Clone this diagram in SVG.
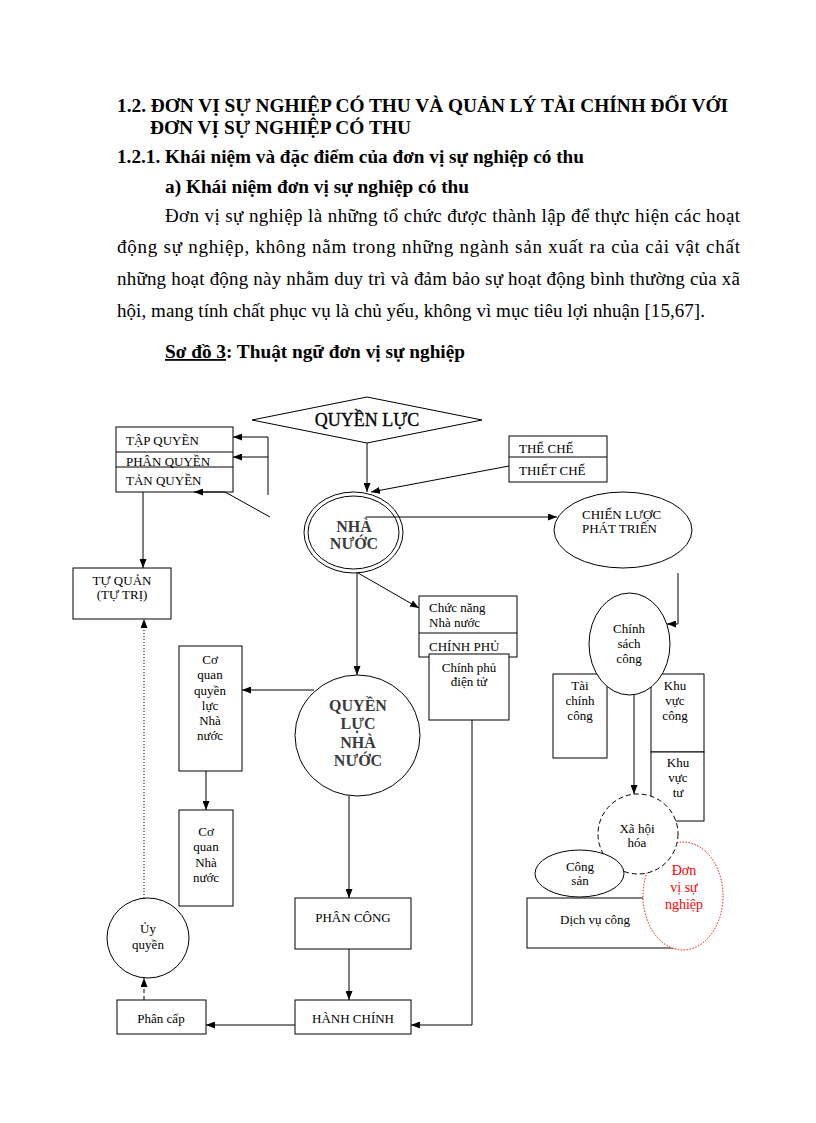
<svg xmlns="http://www.w3.org/2000/svg" width="816" height="1123" viewBox="0 0 816 1123">
<style>
.t{font-family:"Liberation Serif","Times New Roman",serif;fill:#000}
.h{font-size:18px;font-weight:bold}
.p{font-size:19px}
.l{font-size:13px}
.c{text-anchor:middle}
.bb{font-size:16px;font-weight:bold;fill:#3a3a3a;text-anchor:middle}
.box{fill:#fff;stroke:#000;stroke-width:1}
.ln{fill:none;stroke:#000;stroke-width:1}
.arr{fill:none;stroke:#000;stroke-width:1;marker-end:url(#ah)}
</style>
<defs>
<marker id="ah" viewBox="0 0 9 7" refX="9" refY="3.5" markerWidth="9" markerHeight="7" markerUnits="userSpaceOnUse" orient="auto">
<path d="M0,0 L9,3.5 L0,7 z" fill="#000"/>
</marker>
</defs>
<rect width="816" height="1123" fill="#fff"/>

<g id="header">
<text class="t h" x="117" y="112" textLength="611" lengthAdjust="spacingAndGlyphs">1.2. ĐƠN VỊ SỰ NGHIỆP CÓ THU VÀ QUẢN LÝ TÀI CHÍNH ĐỐI VỚI</text>
<text class="t h" x="150" y="134" textLength="261" lengthAdjust="spacingAndGlyphs">ĐƠN VỊ SỰ NGHIỆP CÓ THU</text>
<text class="t h" x="117" y="163" textLength="467" lengthAdjust="spacingAndGlyphs">1.2.1. Khái niệm và đặc điểm của đơn vị sự nghiệp có thu</text>
<text class="t h" x="165" y="193" textLength="304" lengthAdjust="spacingAndGlyphs">a) Khái niệm đơn vị sự nghiệp có thu</text>
<text class="t p" x="165" y="222" textLength="575" lengthAdjust="spacing">Đơn vị sự nghiệp là những tổ chức được thành lập để thực hiện các hoạt</text>
<text class="t p" x="117" y="253" textLength="623" lengthAdjust="spacing">động sự nghiệp, không nằm trong những ngành sản xuất ra của cải vật chất</text>
<text class="t p" x="117" y="285" textLength="623" lengthAdjust="spacing">những hoạt động này nhằm duy trì và đảm bảo sự hoạt động bình thường của xã</text>
<text class="t p" x="117" y="317" textLength="588" lengthAdjust="spacing">hội, mang tính chất phục vụ là chủ yếu, không vì mục tiêu lợi nhuận [15,67].</text>
<text class="t h" x="165" y="358" textLength="300" lengthAdjust="spacingAndGlyphs"><tspan text-decoration="underline">Sơ đồ 3</tspan>:  Thuật ngữ đơn vị sự nghiệp</text>
</g>

<g id="n-quyenluc">
<polygon class="box" points="252,420 367,397 482,420 367,443"/>
<text class="t c" x="367" y="426" font-size="18" stroke="#000" stroke-width="0.3">QUYỀN LỰC</text>
</g>

<g id="n-quyen-stack">
<rect class="box" x="116" y="427" width="117" height="65"/>
<line class="ln" x1="116" y1="452" x2="233" y2="452"/>
<line class="ln" x1="116" y1="467" x2="233" y2="467"/>
<text class="t l" x="126" y="445">TẬP QUYỀN</text>
<text class="t l" x="126" y="466">PHÂN QUYỀN</text>
<text class="t l" x="126" y="485">TẢN QUYỀN</text>
</g>

<g id="n-theche">
<rect class="box" x="509" y="436" width="98" height="46"/>
<line class="ln" x1="509" y1="457" x2="607" y2="457"/>
<text class="t l" x="519" y="453">THỂ CHẾ</text>
<text class="t l" x="519" y="475">THIẾT CHẾ</text>
</g>

<g id="n-nhanuoc">
<ellipse class="box" cx="353.5" cy="532.5" rx="49.5" ry="40.5"/>
<ellipse class="ln" cx="353.5" cy="532.5" rx="45.5" ry="36.5"/>
<text class="t bb" x="354" y="532">NHÀ</text>
<text class="t bb" x="354" y="549">NƯỚC</text>
</g>

<g id="n-chienluoc">
<ellipse class="box" cx="623" cy="530" rx="69" ry="38"/>
<text class="t l" x="582" y="519">CHIẾN LƯỢC</text>
<text class="t l" x="582" y="533">PHÁT TRIỂN</text>
</g>

<g id="n-tuquan">
<rect class="box" x="73" y="568" width="98" height="51"/>
<text class="t l c" x="122" y="585">TỰ QUẢN</text>
<text class="t l c" x="122" y="599">(TỰ TRỊ)</text>
</g>

<g id="n-chucnang">
<rect class="box" x="419" y="596" width="98" height="61"/>
<line class="ln" x1="419" y1="633" x2="517" y2="633"/>
<text class="t l" x="429" y="612">Chức năng</text>
<text class="t l" x="429" y="627">Nhà nước</text>
<text class="t l" x="429" y="651">CHÍNH  PHỦ</text>
</g>

<g id="n-cpdt">
<rect class="box" x="429" y="654" width="80" height="66"/>
<text class="t l c" x="469" y="672">Chính phủ</text>
<text class="t l c" x="469" y="686">điện tử</text>
</g>

<g id="n-coquan-ql">
<rect class="box" x="179" y="646" width="63" height="125"/>
<text class="t l c" x="210" y="664">Cơ</text>
<text class="t l c" x="210" y="679">quan</text>
<text class="t l c" x="210" y="695">quyền</text>
<text class="t l c" x="210" y="710">lực</text>
<text class="t l c" x="210" y="725">Nhà</text>
<text class="t l c" x="210" y="740">nước</text>
</g>

<g id="n-qlnn">
<ellipse class="box" cx="357.5" cy="735.5" rx="62.5" ry="60.5"/>
<text class="t bb" x="358" y="711">QUYỀN</text>
<text class="t bb" x="358" y="729">LỰC</text>
<text class="t bb" x="358" y="748">NHÀ</text>
<text class="t bb" x="358" y="766">NƯỚC</text>
</g>

<g id="n-coquan-nn">
<rect class="box" x="179" y="810" width="54" height="96"/>
<text class="t l c" x="206" y="836">Cơ</text>
<text class="t l c" x="206" y="851">quan</text>
<text class="t l c" x="206" y="867">Nhà</text>
<text class="t l c" x="206" y="882">nước</text>
</g>

<g id="n-uyquyen">
<ellipse class="box" cx="148" cy="938" rx="41" ry="40"/>
<text class="t l c" x="148" y="933">Ủy</text>
<text class="t l c" x="148" y="949">quyền</text>
</g>

<g id="n-phancap">
<rect class="box" x="117" y="1000" width="89" height="34"/>
<text class="t l c" x="161" y="1023">Phân cấp</text>
</g>

<g id="n-phancong">
<rect class="box" x="295" y="898" width="116" height="51"/>
<text class="t l c" x="353" y="922">PHÂN CÔNG</text>
</g>

<g id="n-hanhchinh">
<rect class="box" x="295" y="1000" width="116" height="34"/>
<text class="t l c" x="353" y="1023">HÀNH CHÍNH</text>
</g>

<g id="n-taichinh">
<rect class="box" x="553" y="674" width="54" height="84"/>
<text class="t l c" x="580" y="690">Tài</text>
<text class="t l c" x="580" y="705">chính</text>
<text class="t l c" x="580" y="720">công</text>
</g>

<g id="n-kvcong">
<rect class="box" x="651" y="674" width="53" height="78"/>
<text class="t l c" x="675" y="690">Khu</text>
<text class="t l c" x="675" y="705">vực</text>
<text class="t l c" x="675" y="720">công</text>
</g>

<g id="n-kvtu">
<rect class="box" x="651" y="752" width="53" height="69"/>
<text class="t l c" x="678" y="767">Khu</text>
<text class="t l c" x="678" y="782">vực</text>
<text class="t l c" x="678" y="797">tư</text>
</g>

<g id="n-chinhsach">
<ellipse class="box" cx="629.5" cy="644" rx="40.5" ry="51"/>
<text class="t l c" x="629" y="633">Chính</text>
<text class="t l c" x="629" y="648">sách</text>
<text class="t l c" x="629" y="663">công</text>
</g>

<g id="n-dichvu">
<rect class="box" x="527" y="898" width="151" height="50"/>
<text class="t l" x="560" y="924">Dịch vụ công</text>
</g>

<g id="n-donvi">
<ellipse cx="683" cy="896" rx="40" ry="54" fill="#fff" stroke="#f00" stroke-width="1" stroke-dasharray="1.5 1.5"/>
<text class="t c" x="684" y="875" font-size="14" style="fill:#f00">Đơn</text>
<text class="t c" x="684" y="892" font-size="14" style="fill:#f00">vị sự</text>
<text class="t c" x="684" y="909" font-size="14" style="fill:#f00">nghiệp</text>
</g>

<g id="n-xahoi">
<circle cx="638" cy="834" r="40" fill="#fff" stroke="#000" stroke-width="1" stroke-dasharray="5 3"/>
<text class="t l c" x="637" y="833">Xã hội</text>
<text class="t l c" x="637" y="847">hóa</text>
</g>

<g id="n-congsan">
<ellipse class="box" cx="579.5" cy="873.5" rx="44.5" ry="23.5"/>
<text class="t l c" x="580" y="871">Công</text>
<text class="t l c" x="580" y="885">sản</text>
</g>

<g id="connectors">
<line class="arr" x1="367" y1="443" x2="367" y2="492"/>
<line class="arr" x1="509" y1="466" x2="371" y2="492"/>
<polyline class="ln" points="268,495 268,437"/>
<line class="arr" x1="268" y1="437" x2="233" y2="437"/>
<line class="arr" x1="268" y1="457" x2="233" y2="457"/>
<polyline class="arr" points="270,517 225,492 194,492"/>
<line class="arr" x1="143" y1="492" x2="143" y2="568"/>
<line class="arr" x1="366" y1="517" x2="557" y2="517"/>
<line class="arr" x1="358" y1="573" x2="419" y2="608"/>
<line class="arr" x1="357" y1="573" x2="357" y2="675"/>
<line class="arr" x1="314" y1="690" x2="242" y2="690"/>
<line class="arr" x1="206" y1="771" x2="206" y2="810"/>
<line class="arr" x1="349" y1="796" x2="349" y2="898"/>
<line class="arr" x1="349" y1="949" x2="349" y2="1000"/>
<polyline class="arr" points="472,720 472,1025 411,1025"/>
<line class="arr" x1="295" y1="1025" x2="206" y2="1025"/>
<line class="arr" x1="144" y1="1000" x2="144" y2="978" stroke-dasharray="4 3"/>
<line class="arr" x1="144" y1="898" x2="144" y2="619" stroke-dasharray="1 2"/>
<polyline class="arr" points="678,573 678,624 667,624"/>
<line class="arr" x1="634" y1="695" x2="634" y2="794"/>
</g>
</svg>
